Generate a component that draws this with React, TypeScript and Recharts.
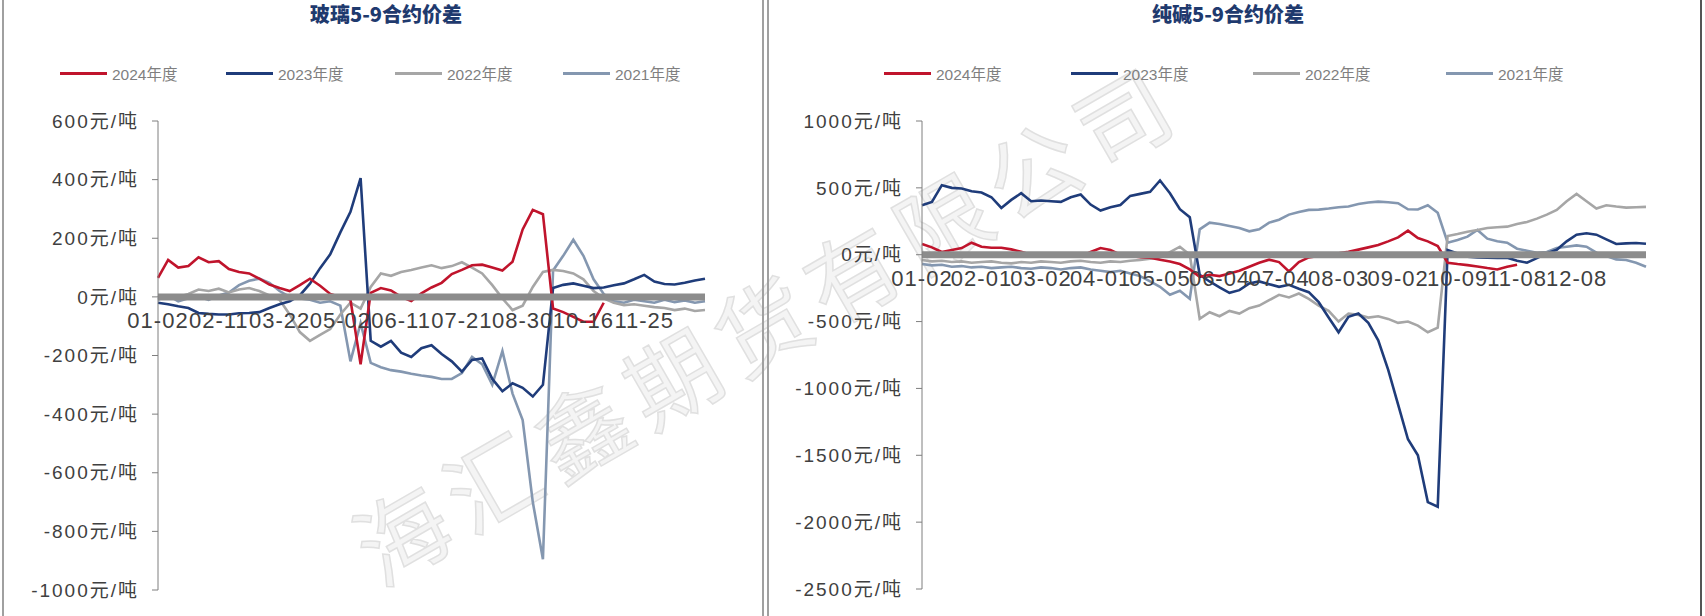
import React from 'react';
import { LineChart, Line, XAxis, YAxis, ReferenceLine, ReferenceDot } from 'recharts';

// 玻璃 5-9 spread, trading-day categories (every 6th one is labelled)
const glassDates = [
  '01-02', '01-08', '01-14', '01-20', '01-27', '02-03', '02-11',
  '02-17', '02-24', '03-02', '03-08', '03-15', '03-22',
  '03-29', '04-07', '04-13', '04-19', '04-25', '05-02',
  '05-09', '05-16', '05-22', '05-29', '06-04', '06-11',
  '06-17', '06-24', '07-01', '07-07', '07-14', '07-21',
  '07-27', '08-03', '08-10', '08-16', '08-23', '08-30',
  '09-06', '09-13', '09-20', '09-27', '10-09', '10-16',
  '10-23', '10-30', '11-05', '11-12', '11-18', '11-25',
  '12-02', '12-08', '12-14', '12-20', '12-26', '12-31',
];
const glassTicks = ['01-02', '02-11', '03-22', '05-02', '06-11', '07-21', '08-30', '10-16', '11-25'];
const glassYTicks = [600, 400, 200, 0, -200, -400, -600, -800, -1000];

const glass2024 = [
  65, 126, 100, 105, 135, 118, 122, 95, 85, 80,
  62, 42, 30, 20, 40, 62, 38, 10, 0, -10,
  -230, 14, 30, 22, 0, -14, 12, 32, 48, 78,
  92, 108, 110, 100, 90, 120, 230, 297, 282, -40,
  -52, -68, -85, -85, -20, null, null, null, null, null,
  null, null, null, null, null,
];
const glass2023 = [
  -20, -25, -32, -38, -55, -58, -60, -60, -56, -55,
  -52, -38, -25, -15, 5, 45, 98, 145, 220, 290,
  405, -150, -170, -150, -190, -205, -175, -165, -195, -220,
  -255, -215, -210, -280, -322, -295, -310, -340, -300, 30,
  41, 46, 38, 30, 32, 40, 46, 60, 75, 52,
  44, 42, 48, 56, 62,
];
const glass2022 = [
  5, -5, 0, 10, 25, 20, 28, 15, 25, 30,
  20, 5, -10, -60, -120, -150, -130, -110, -60, -20,
  -40, 34, 80, 72, 85, 92, 100, 108, 98, 105,
  118, 100, 80, 40, -5, -45, -30, 34, 85, 92,
  88, 80, 60, 20, -5, -20, -28, -25, -30, -35,
  -38, -45, -40, -48, -45,
];
const glass2021 = [
  -10, 5, -15, -5, 0, -10, 5, 15, 40, 55,
  62, 48, 20, 0, -5, -10, -20, -15, -30, -220,
  -90, -225, -240, -250, -255, -262, -268, -273, -280, -280,
  -260, -205, -230, -300, -185, -330, -420, -700, -895, 90,
  140, 195, 140, 60, 10, -15, -20, -10, -15, -20,
  -10, -18, -12, -20, -15,
];

// 纯碱 5-9 spread
const sodaDates = [
  '01-02', '01-06', '01-10', '01-16', '01-20', '01-26', '02-01',
  '02-06', '02-10', '02-16', '02-20', '02-24', '03-02',
  '03-08', '03-14', '03-18', '03-22', '03-28', '04-01',
  '04-08', '04-12', '04-18', '04-22', '04-28', '05-05',
  '05-11', '05-16', '05-20', '05-24', '05-30', '06-04',
  '06-10', '06-14', '06-20', '06-24', '06-28', '07-04',
  '07-10', '07-14', '07-18', '07-24', '07-28', '08-03',
  '08-09', '08-13', '08-17', '08-23', '08-29', '09-02',
  '09-08', '09-12', '09-18', '09-22', '09-28', '10-09',
  '10-13', '10-17', '10-21', '10-27', '11-02', '11-08',
  '11-12', '11-16', '11-22', '11-28', '12-02', '12-08',
  '12-12', '12-16', '12-20', '12-24', '12-28', '12-30', '12-31',
];
const sodaTicks = ['01-02', '02-01', '03-02', '04-01', '05-05', '06-04', '07-04', '08-03', '09-02', '10-09', '11-08', '12-08'];
const sodaYTicks = [1000, 500, 0, -500, -1000, -1500, -2000, -2500];

const soda2024 = [
  80, 55, 20, 35, 50, 90, 60, 52, 52, 40,
  22, 0, -15, 0, 5, -5, -15, 20, 50, 35,
  0, -10, -18, -22, -37, -50, -70, -110, -165, -150,
  -160, -140, -120, -90, -60, -37, -55, -125, -55, -20,
  -10, 0, 10, 22, 38, 55, 72, 100, 130, 180,
  125, 100, 65, -60, -70, -78, -88, -100, -110, -90,
  -75, null, null, null, null, null, null, null, null, null,
  null, null, null, null,
];
const soda2023 = [
  370, 395, 520, 500, 495, 475, 465, 430, 350, 410,
  460, 400, 405, 400, 395, 430, 450, 375, 330, 355,
  372, 440, 455, 470, 555, 460, 340, 280, -150, -200,
  -245, -285, -265, -215, -200, -220, -240, -225, -255, -280,
  -355, -470, -580, -465, -440, -510, -640, -860, -1120, -1380,
  -1500, -1850, -1885, 35, 10, -15, -20, -22, -25, -22,
  -45, -60, -25, 10, 37, 100, 150, 160, 150, 115,
  80, 85, 88, 82,
];
const soda2022 = [
  -40, -50, -45, -55, -50, -60, -55, -50, -60, -65,
  -55, -60, -50, -55, -60, -50, -45, -55, -60, -50,
  -55, -45, -40, -30, -20, 20, 60, 0, -480, -430,
  -460, -420, -440, -400, -380, -340, -300, -320, -290, -330,
  -380, -420, -500, -440, -450, -470, -460, -480, -510, -500,
  -530, -580, -545, 140, 155, 172, 185, 200, 205, 210,
  230, 245, 270, 300, 335, 400, 455, 400, 345, 370,
  360, 352, 355, 358,
];
const soda2021 = [
  -70, -80, -75, -90, -85, -95, -90, -100, -95, -90,
  -100, -105, -95, -100, -110, -100, -95, -110, -120, -130,
  -120, -140, -160, -200, -240, -300, -270, -330, 190, 240,
  230, 215, 200, 175, 190, 240, 262, 300, 320, 335,
  337, 345, 355, 360, 380, 390, 397, 392, 385, 340,
  338, 370, 314, 90, 110, 135, 185, 120, 100, 90,
  45, 30, 15, 20, 50, 60, 70, 60, 15, -10,
  -35, -40, -60, -90,
];

const SERIES = [
  { key: 'y2024', name: '2024年度', color: '#C0142C' },
  { key: 'y2023', name: '2023年度', color: '#1F3C7A' },
  { key: 'y2022', name: '2022年度', color: '#A6A6A6' },
  { key: 'y2021', name: '2021年度', color: '#8497B0' },
];

const FONT = "'Liberation Sans', 'Noto Sans CJK SC', sans-serif";

const glassRows = glassDates.map((date, i) => ({
  date,
  y2024: glass2024[i],
  y2023: glass2023[i],
  y2022: glass2022[i],
  y2021: glass2021[i],
}));

const sodaRows = sodaDates.map((date, i) => ({
  date,
  y2024: soda2024[i],
  y2023: soda2023[i],
  y2022: soda2022[i],
  y2021: soda2021[i],
}));

type PanelProps = {
  left: number;
  width: number;
  rows: any[];
  ticks: string[];
  yTicks: number[];
  margin: { top: number; right: number; bottom: number; left: number };
};

function SpreadChart({ left, width, rows, ticks, yTicks, margin }: PanelProps) {
  const lo = yTicks[yTicks.length - 1];
  const hi = yTicks[0];
  return (
    <div style={{ position: 'absolute', left, top: 0 }}>
      <LineChart width={width} height={616} data={rows} margin={margin}>
        <XAxis dataKey="date" hide />
        <YAxis
          domain={[lo, hi]}
          ticks={yTicks}
          interval={0}
          width={120}
          tickFormatter={(v: number) => `${v}元/吨`}
          axisLine={{ stroke: '#7f7f7f' }}
          tickLine={{ stroke: '#7f7f7f' }}
          tickSize={6}
          tickMargin={13}
          tick={{ fill: '#404040', fontSize: 19, fontFamily: FONT, letterSpacing: 2 }}
        />
        {[...SERIES].reverse().map((s) => (
          <Line
            key={s.key}
            dataKey={s.key}
            type="linear"
            stroke={s.color}
            strokeWidth={2.6}
            dot={false}
            isAnimationActive={false}
          />
        ))}
        <ReferenceLine y={0} stroke="#8c8c8c" strokeWidth={7} />
        {ticks.map((t) => (
          <ReferenceDot
            key={t}
            x={t}
            y={0}
            r={0}
            fill="none"
            stroke="none"
            label={{
              value: t,
              position: 'bottom',
              offset: 16,
              fill: '#404040',
              fontSize: 22,
              letterSpacing: 1,
              fontFamily: FONT,
            }}
          />
        ))}
      </LineChart>
    </div>
  );
}

function Legend({ xs }: { xs: number[] }) {
  return (
    <>
      {SERIES.map((s, k) => (
        <div
          key={s.key}
          style={{ position: 'absolute', left: xs[k], top: 62, height: 22, display: 'flex', alignItems: 'center' }}
        >
          <span style={{ display: 'inline-block', width: 47, height: 3, background: s.color }} />
          <span style={{ marginLeft: 5, color: '#7f7f7f', fontSize: 15.5, fontFamily: FONT, whiteSpace: 'nowrap' }}>
            {s.name}
          </span>
        </div>
      ))}
    </>
  );
}

function Title({ cx, text }: { cx: number; text: string }) {
  return (
    <div
      style={{
        position: 'absolute',
        left: cx - 160,
        width: 320,
        top: 0,
        lineHeight: '28px',
        textAlign: 'center',
        fontSize: 20,
        fontWeight: 900,
        color: '#1F3A6E',
        fontFamily: "'Noto Sans CJK SC', serif",
      }}
    >
      {text}
    </div>
  );
}

export default function App() {
  return (
    <div style={{ position: 'fixed', left: 0, top: 0, width: 1705, height: 616, background: '#fff', overflow: 'hidden' }}>
      <svg width={1705} height={616} style={{ position: 'absolute', left: 0, top: 0 }}>
        <text
          x={0}
          y={0}
          transform="translate(380 588) rotate(-30)"
          fontSize={92}
          letterSpacing={12}
          fontFamily="'Noto Sans CJK SC', sans-serif"
          fill="#f4f4f4"
          stroke="#e0e0e0"
          strokeWidth={1.5}
        >
          海汇鑫期货有限公司
        </text>
      </svg>

      <div style={{ position: 'absolute', left: 2, top: 0, width: 2, height: 616, background: '#a0a0a0' }} />
      <div style={{ position: 'absolute', left: 762, top: 0, width: 2, height: 616, background: '#a0a0a0' }} />
      <div style={{ position: 'absolute', left: 767, top: 0, width: 2, height: 616, background: '#a0a0a0' }} />
      <div style={{ position: 'absolute', left: 1700, top: 0, width: 2, height: 616, background: '#555' }} />

      <Title cx={386} text="玻璃5-9合约价差" />
      <Title cx={1228} text="纯碱5-9合约价差" />
      <Legend xs={[60, 226, 395, 563]} />
      <Legend xs={[884, 1071, 1253, 1446]} />

      <SpreadChart
        left={0}
        width={764}
        rows={glassRows}
        ticks={glassTicks}
        yTicks={glassYTicks}
        margin={{ top: 121, right: 59, bottom: 26, left: 38 }}
      />
      <SpreadChart
        left={767}
        width={935}
        rows={sodaRows}
        ticks={sodaTicks}
        yTicks={sodaYTicks}
        margin={{ top: 121, right: 56, bottom: 27, left: 35 }}
      />
    </div>
  );
}
